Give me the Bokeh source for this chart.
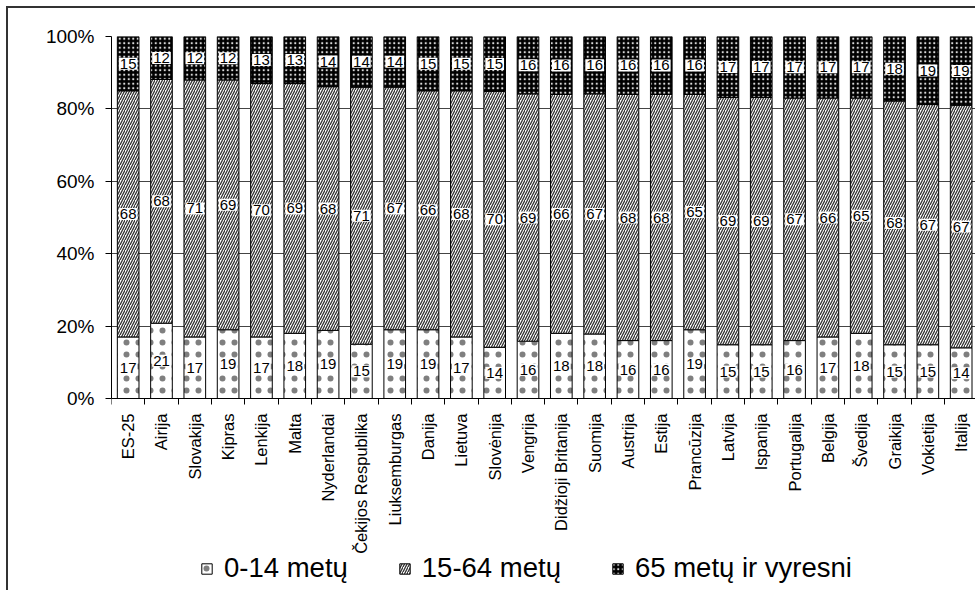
import math
from bokeh.plotting import figure
from bokeh.models import Range1d, FixedTicker, Legend, LegendItem, ColumnDataSource
from bokeh.core.properties import value
from bokeh.embed import file_html
from bokeh.resources import INLINE

countries = ["ES-25", "Airija", "Slovakija", "Kipras", "Lenkija", "Malta", "Nyderlandai",
             "Čekijos Respublika", "Liuksemburgas", "Danija", "Lietuva", "Slovėnija", "Vengrija",
             "Didžioji Britanija", "Suomija", "Austrija", "Estija", "Prancūzija", "Latvija",
             "Ispanija", "Portugalija", "Belgija", "Švedija", "Graikija", "Vokietija", "Italija"]
age_0_14 = [17, 21, 17, 19, 17, 18, 19, 15, 19, 19, 17, 14, 16, 18, 18, 16, 16, 19, 15, 15, 16, 17, 18, 15, 15, 14]
age_15_64 = [68, 68, 71, 69, 70, 69, 68, 71, 67, 66, 68, 70, 69, 66, 67, 68, 68, 65, 69, 69, 67, 66, 65, 68, 67, 67]
age_65_plus = [15, 12, 12, 12, 13, 13, 14, 14, 14, 15, 15, 15, 16, 16, 16, 16, 16, 16, 17, 17, 17, 17, 17, 18, 19, 19]
series_names = ["0-14 metų", "15-64 metų", "65 metų ir vyresni"]
y_ticks = [0, 20, 40, 60, 80, 100]
y_tick_labels = ["0%", "20%", "40%", "60%", "80%", "100%"]

FONT = "Liberation Sans"

n = len(countries)
xs = list(range(n))
totals = [a + b + c for a, b, c in zip(age_0_14, age_15_64, age_65_plus)]
p1 = [100.0 * a / t for a, t in zip(age_0_14, totals)]
p2 = [100.0 * b / t for b, t in zip(age_15_64, totals)]
b1 = [0.0] * n
t1 = p1
b2 = t1
t2 = [u + v for u, v in zip(t1, p2)]
b3 = t2
t3 = [100.0] * n

src = ColumnDataSource(dict(
    x=xs, b1=b1, t1=t1, b2=b2, t2=t2, b3=b3, t3=t3,
    y1=[(u + v) / 2 for u, v in zip(b1, t1)],
    y2=[(u + v) / 2 for u, v in zip(b2, t2)],
    y3=[(u + v) / 2 for u, v in zip(b3, t3)],
    l1=[str(v) for v in age_0_14],
    l2=[str(v) for v in age_15_64],
    l3=[str(v) for v in age_65_plus],
))

# frame: x 111..975, y 36..590 ; value 0 sits at y=398
PX_PER_PCT = (398 - 36) / 100.0
y_low = -(590 - 398) / PX_PER_PCT

p = figure(width=975, height=590, x_range=Range1d(-0.5, 25.43), y_range=Range1d(y_low, 100),
           output_backend="svg", toolbar_location=None,
           min_border_left=111, min_border_right=0, min_border_top=36, min_border_bottom=0)
p.border_fill_color = None
p.background_fill_color = "white"
p.outline_line_color = None
p.styles = {
    "background-color": "white",
    "background-image": "linear-gradient(#333,#333), linear-gradient(#333,#333)",
    "background-size": "2px 100%, 100% 2px",
    "background-position": "6px 6px, 6px 6px",
    "background-repeat": "no-repeat",
}

W = 0.65
r1 = p.vbar(x="x", bottom="b1", top="t1", width=W, source=src,
            fill_color="white", line_color="black", line_width=1,
            hatch_pattern="dot", hatch_color="black", hatch_alpha=0.5,
            hatch_scale=12, hatch_weight=0.1)
r2 = p.vbar(x="x", bottom="b2", top="t2", width=W, source=src,
            fill_color="white", line_color="black", line_width=1,
            hatch_pattern="right_diagonal_line", hatch_color="#333", hatch_scale=5, hatch_weight=1.3)
r3 = p.vbar(x="x", bottom="b3", top="t3", width=W, source=src,
            fill_color="black", line_color="black", line_width=1,
            hatch_pattern="dot", hatch_color="white", hatch_alpha=0.85,
            hatch_scale=4.5, hatch_weight=0.2)

for ycol, lcol in (("y1", "l1"), ("y2", "l2"), ("y3", "l3")):
    p.text(x="x", y=ycol, text=lcol, source=src, text_font=value(FONT), text_font_size="15px",
           text_color="black", text_align="center", text_baseline="middle",
           background_fill_color="white", padding=1)

# grid
p.xgrid.grid_line_color = None
p.ygrid.ticker = FixedTicker(ticks=y_ticks)
p.ygrid.grid_line_color = "#444"
p.ygrid.grid_line_width = 1
p.ygrid.level = "underlay"

# y axis
p.yaxis.ticker = FixedTicker(ticks=y_ticks)
p.yaxis.bounds = (0, 100)
p.yaxis.major_label_overrides = {t: l for t, l in zip(y_ticks, y_tick_labels)}
p.yaxis.major_label_text_font = FONT
p.yaxis.major_label_text_font_size = "19px"
p.yaxis.major_label_text_color = "black"
p.yaxis.major_tick_in = 0
p.yaxis.major_tick_out = 6
p.yaxis.minor_tick_line_color = None
p.yaxis.major_tick_line_color = "black"
p.yaxis.axis_line_color = "black"
p.yaxis.major_label_standoff = 11

# x axis (fixed at the 0 % line)
p.xaxis.fixed_location = 0
p.xaxis.ticker = FixedTicker(ticks=xs, minor_ticks=[i - 0.5 for i in range(n + 1)])
p.xaxis.major_label_overrides = {i: c for i, c in zip(xs, countries)}
p.xaxis.major_label_orientation = math.pi / 2
p.xaxis.major_label_text_font = FONT
p.xaxis.major_label_text_font_size = "16.5px"
p.xaxis.major_label_text_color = "black"
p.xaxis.major_tick_line_color = None
p.xaxis.major_tick_in = 0
p.xaxis.major_tick_out = 6
p.xaxis.minor_tick_in = 0
p.xaxis.minor_tick_out = 6
p.xaxis.minor_tick_line_color = "black"
p.xaxis.axis_line_color = "black"
p.xaxis.major_label_standoff = 9

legend = Legend(items=[LegendItem(label=series_names[0], renderers=[r1]),
                       LegendItem(label=series_names[1], renderers=[r2]),
                       LegendItem(label=series_names[2], renderers=[r3])],
                orientation="horizontal", location=(89, 6),
                border_line_color=None, background_fill_alpha=0,
                padding=0, margin=0, spacing=50, label_standoff=11,
                glyph_width=13, glyph_height=13,
                label_text_font=FONT, label_text_font_size="27.5px", label_text_color="black")
p.add_layout(legend)

open("out.html", "w").write(file_html(p, INLINE))
